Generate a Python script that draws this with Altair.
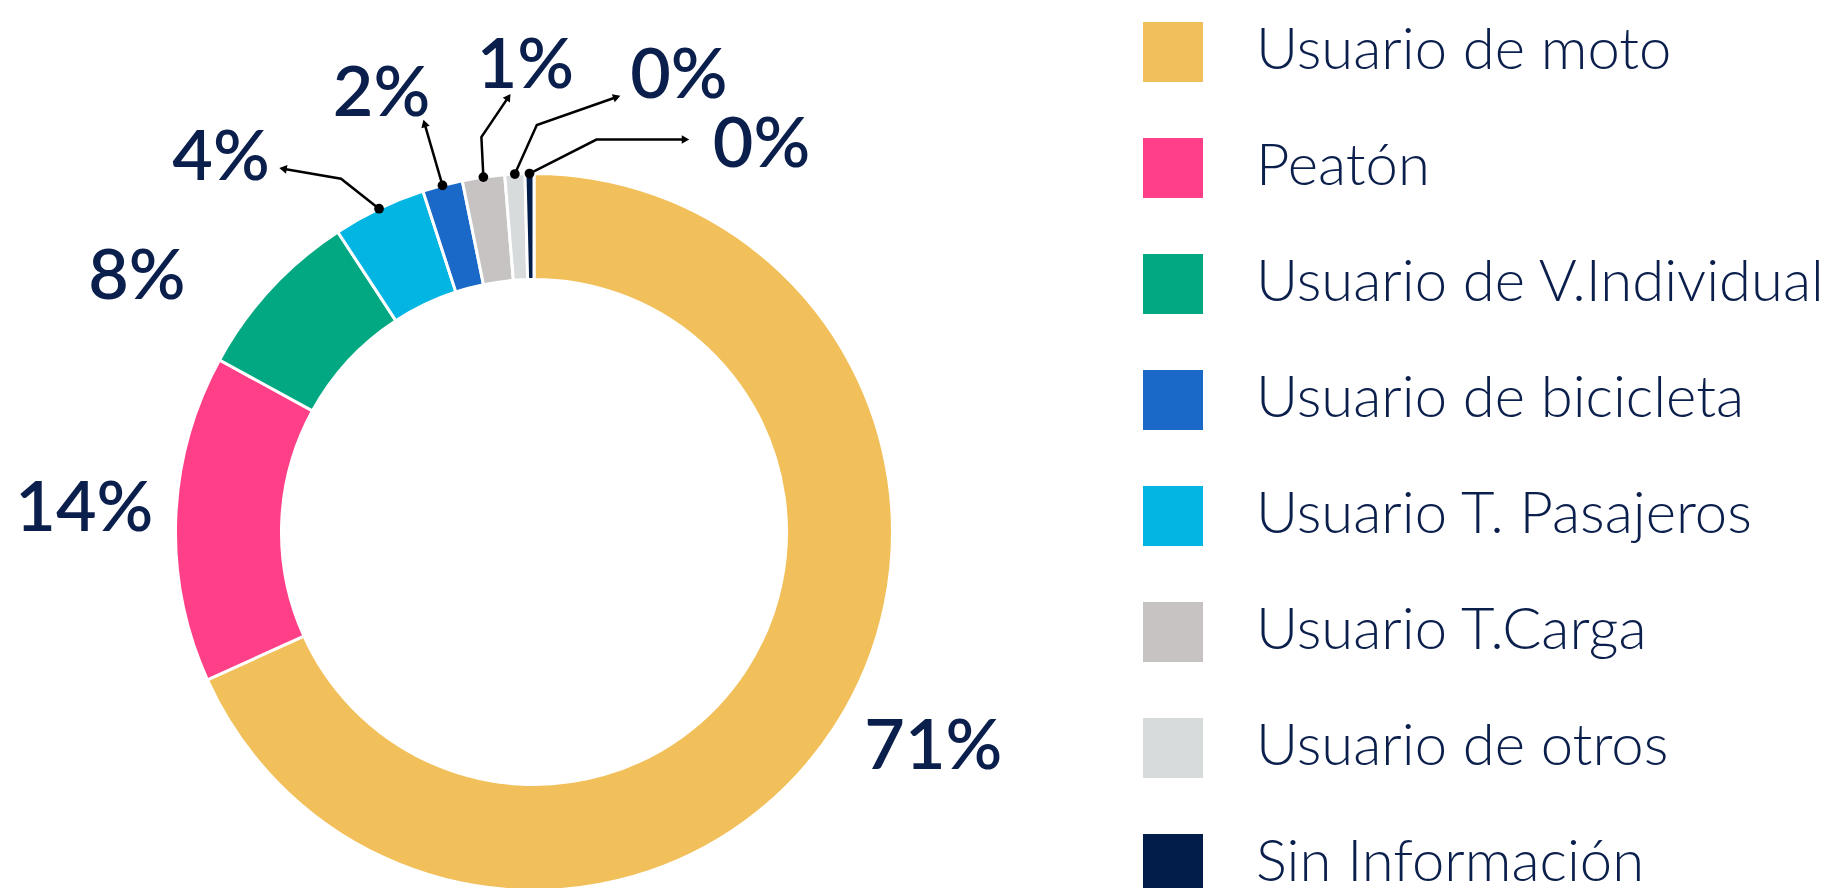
import math
import altair as alt
import pandas as pd

# ---------------- data ----------------
# legend order
CATEGORIES = ["Usuario de moto", "Peatón", "Usuario de V.Individual", "Usuario de bicicleta",
              "Usuario T. Pasajeros", "Usuario T.Carga", "Usuario de otros", "Sin Información"]
COLORS = ["#F2C05A", "#FF3F87", "#02A882", "#1A68C7", "#02B5E2", "#C7C3C3", "#D7DBDB", "#021D4A"]

# order of the slices around the ring (clockwise from 12 o'clock)
RING_ORDER = ["Usuario de moto", "Peatón", "Usuario de V.Individual", "Usuario T. Pasajeros",
              "Usuario de bicicleta", "Usuario T.Carga", "Usuario de otros", "Sin Información"]
SHARES = [68.1, 14.7, 7.8, 4.2, 1.8, 1.9, 0.9, 0.4]
LABELS = ["71%", "14%", "8%", "4%", "2%", "1%", "0%", "0%"]

# ---------------- layout ----------------
W, H = 1833, 888
CX, CY = 534, 532
R_OUT, R_IN = 358.5, 252.5
R_LABEL = 455
TEXT_COLOR = "#0B1F4C"
TEXT_DY = 5

# big labels: nudge from polar(mid, R_LABEL)
BIG_NUDGE = {"Usuario de moto": (17, -36), "Peatón": (5, -10), "Usuario de V.Individual": (-63, 50)}
# small labels: leader offsets from the dot (elbow optional, tip) and text offset from tip
LEADERS = {
    "Usuario T. Pasajeros": ([(-38, -30), (-96, -40)], (-62, -15)),
    "Usuario de bicicleta": ([(-18, -62)], (-43, -33)),
    "Usuario T.Carga": ([(-2, -40), (25, -80)], (17, -35)),
    "Usuario de otros": ([(22, -49), (102, -77)], (62, -25)),
    "Sin Información": ([(67, -34), (156, -34)], (76, 1)),
}

total = sum(SHARES)
mids = {}
acc = 0.0
for name, v in zip(RING_ORDER, SHARES):
    mids[name] = (acc + v / 2) / total * 360.0
    acc += v


def polar(angle_deg, r):
    a = math.radians(angle_deg)
    return CX + r * math.sin(a), CY - r * math.cos(a)


arc_df = pd.DataFrame({"cat": RING_ORDER, "share": SHARES, "idx": list(range(len(RING_ORDER)))})

text_rows, line_rows, dot_rows, head_rows = [], [], [], []
for name, lab in zip(RING_ORDER, LABELS):
    if name in BIG_NUDGE:
        x, y = polar(mids[name], R_LABEL)
        dx, dy = BIG_NUDGE[name]
        text_rows.append({"x": x + dx, "y": y + dy + TEXT_DY, "t": lab})
    else:
        offs, toff = LEADERS[name]
        dx0, dy0 = polar(mids[name], R_OUT)
        pts = [(dx0, dy0)] + [(dx0 + ox, dy0 + oy) for ox, oy in offs]
        for i, (px, py) in enumerate(pts):
            line_rows.append({"g": name, "i": i, "x": px, "y": py})
        dot_rows.append({"x": dx0, "y": dy0})
        (ax, ay), (bx, by) = pts[-2], pts[-1]
        ang = math.degrees(math.atan2(bx - ax, -(by - ay))) % 360
        head_rows.append({"x": bx, "y": by, "a": ang})
        text_rows.append({"x": bx + toff[0], "y": by + toff[1] + TEXT_DY, "t": lab})

xs = alt.Scale(domain=[0, W], nice=False, zero=False)
ys = alt.Scale(domain=[0, H], nice=False, zero=False, reverse=True)
X = lambda: alt.X("x:Q", scale=xs, axis=None)
Y = lambda: alt.Y("y:Q", scale=ys, axis=None)

donut = alt.Chart(arc_df).mark_arc(
    outerRadius=R_OUT, innerRadius=R_IN, stroke="white", strokeWidth=3
).encode(
    theta=alt.Theta("share:Q", stack=True),
    order=alt.Order("idx:Q"),
    color=alt.Color(
        "cat:N",
        scale=alt.Scale(domain=CATEGORIES, range=COLORS),
        legend=alt.Legend(
            title=None, orient="none", legendX=1143, legendY=22,
            symbolType="square", symbolSize=3600, symbolStrokeWidth=0, symbolOpacity=1,
            labelFont="Lato", labelFontSize=58, labelFontWeight=300, labelColor=TEXT_COLOR,
            labelOffset=53, rowPadding=56, padding=0, labelLimit=0,
        ),
    ),
    x=alt.value(CX),
    y=alt.value(CY),
)

lines = alt.Chart(pd.DataFrame(line_rows)).mark_line(color="black", strokeWidth=2.5).encode(
    x=X(), y=Y(), detail="g:N", order="i:Q"
)
dots = alt.Chart(pd.DataFrame(dot_rows)).mark_point(
    filled=True, color="black", size=95, opacity=1, shape="circle"
).encode(x=X(), y=Y())
heads = alt.Chart(pd.DataFrame(head_rows)).mark_point(
    filled=True, color="black", size=75, opacity=1, shape="triangle-up"
).encode(x=X(), y=Y(), angle=alt.Angle("a:Q", scale=None))
texts = alt.Chart(pd.DataFrame(text_rows)).mark_text(
    font="Lato", fontSize=70, fontWeight=600, color=TEXT_COLOR, align="center", baseline="middle"
).encode(x=X(), y=Y(), text="t:N")

chart = alt.layer(donut, lines, dots, heads, texts).properties(
    width=W, height=H, padding=0, autosize=alt.AutoSizeParams(type="none"), background="white"
).configure_view(stroke=None)

chart.save("out.html", embed_options={"renderer": "svg", "actions": False})
